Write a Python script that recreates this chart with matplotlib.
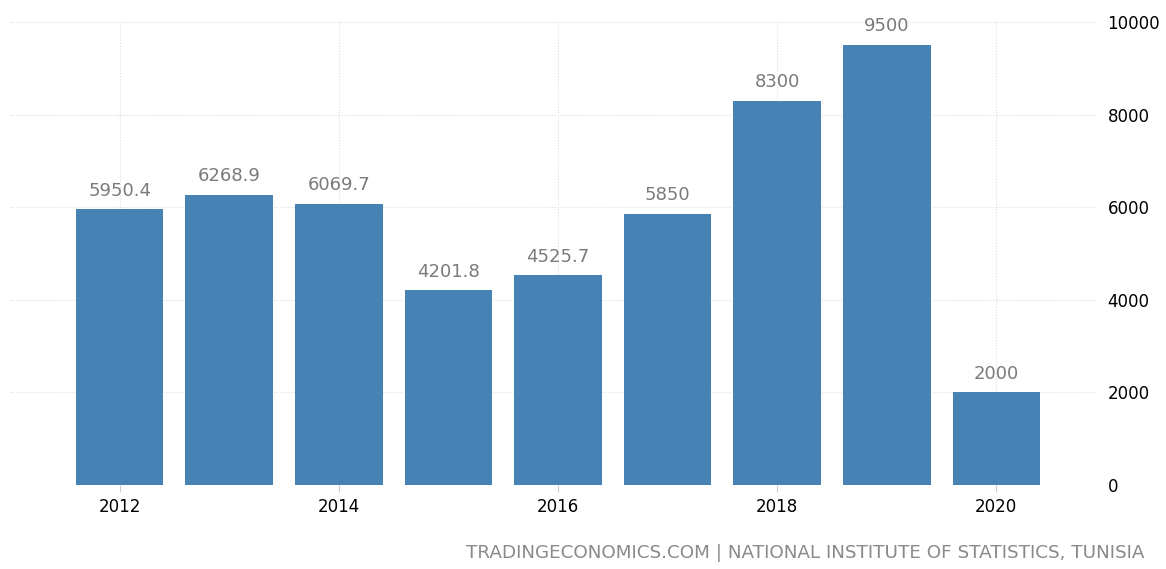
import matplotlib
matplotlib.use("Agg")
import matplotlib.pyplot as plt

years = [2012, 2013, 2014, 2015, 2016, 2017, 2018, 2019, 2020]
values = [5950.4, 6268.9, 6069.7, 4201.8, 4525.7, 5850, 8300, 9500, 2000]
labels = ["5950.4", "6268.9", "6069.7", "4201.8", "4525.7", "5850", "8300", "9500", "2000"]
xticks = [2012, 2014, 2016, 2018, 2020]
yticks = [0, 2000, 4000, 6000, 8000, 10000]

plt.rcParams["font.family"] = ["DejaVu Sans"]

fig = plt.figure(figsize=(11.66, 5.69), dpi=100)
ax = fig.add_axes([10 / 1166, 1 - 485 / 569, 1085 / 1166, 463 / 569])

bars = ax.bar(years, values, width=0.8, color="#4682b4", zorder=2)

for b, lab in zip(bars, labels):
    ax.annotate(lab, (b.get_x() + b.get_width() / 2, b.get_height()),
                xytext=(0, 7), textcoords="offset points",
                ha="center", va="bottom", fontsize=13, color="#7a7a7a")

ax.set_xlim(2011.0, 2020.9)
ax.set_ylim(0, 10000)
ax.set_xticks(xticks)
ax.set_yticks(yticks)
ax.yaxis.tick_right()
ax.tick_params(axis="y", length=0, pad=9, labelsize=12, labelcolor="black")
ax.tick_params(axis="x", length=5, color="#cccccc", pad=4, labelsize=12)

ax.grid(True, color="#dddddd", linestyle=(0, (1, 1.5)), linewidth=0.8, zorder=0)
for s in ax.spines.values():
    s.set_visible(False)

fig.text(1145 / 1166, 1 - 562 / 569, "TRADINGECONOMICS.COM | NATIONAL INSTITUTE OF STATISTICS, TUNISIA",
         ha="right", va="bottom", fontsize=13.2, color="#8a8a8a")

fig.savefig("out.png", dpi=100)
